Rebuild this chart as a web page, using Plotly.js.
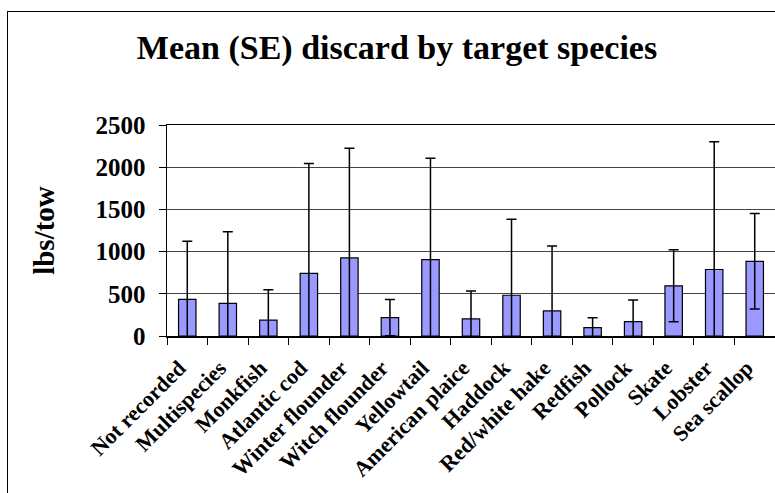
<!DOCTYPE html>
<html>
<head>
<meta charset="utf-8">
<script src="https://cdn.plot.ly/plotly-3.0.1.min.js"></script>
<style>
html, body { margin: 0; padding: 0; background: #fff; overflow: hidden; width: 775px; height: 493px; }
#wrap { position: relative; width: 775px; height: 493px; overflow: hidden; }
#chart { position: absolute; left: 0; top: 0; width: 775px; height: 493px; }
#frame { position: absolute; left: 7px; top: 11px; width: 900px; height: 600px;
         border-left: 1px solid #000; border-top: 1px solid #000; pointer-events: none; }
</style>
</head>
<body>
<div id="wrap">
<div id="chart"></div>
<div id="frame"></div>
</div>
<script>
// Data
const species = ["Not recorded", "Multispecies", "Monkfish", "Atlantic cod", "Winter flounder",
  "Witch flounder", "Yellowtail", "American plaice", "Haddock", "Red/white hake",
  "Redfish", "Pollock", "Skate", "Lobster", "Sea scallop"];
const meanDiscard = [433, 386, 187, 743, 925, 218, 906, 202, 483, 297, 100, 171, 595, 788, 885];
const seDiscard   = [690, 850, 360, 1300, 1300, 215, 1200, 330, 900, 770, 115, 256, 427, 1515, 565];
const yTicks = [0, 500, 1000, 1500, 2000, 2500];

const serif = '"Liberation Serif", "Times New Roman", serif';

const trace = {
  type: 'bar',
  x: species,
  y: meanDiscard,
  marker: { color: '#9999FF', line: { color: '#000000', width: 1.2 } },
  error_y: { type: 'data', array: seDiscard, symmetric: true, visible: true,
             color: '#000000', thickness: 1.5, width: 5 },
  cliponaxis: true,
  hoverinfo: 'x+y'
};

const layout = {
  width: 775, height: 493,
  margin: { l: 167, r: 0, t: 125, b: 157, pad: 0 },
  paper_bgcolor: '#ffffff', plot_bgcolor: '#ffffff',
  showlegend: false,
  bargap: 0.57,
  title: {
    text: 'Mean (SE) discard by target species',
    font: { family: serif, size: 34, color: '#000', weight: 'bold' },
    x: 397 / 775, xanchor: 'center', xref: 'container',
    y: 1 - 47 / 493, yanchor: 'middle', yref: 'container'
  },
  xaxis: {
    type: 'category',
    tickangle: -45,
    tickson: 'boundaries',
    ticks: 'outside', ticklen: 7, tickcolor: '#000', tickwidth: 1,
    showline: true, linecolor: '#000', linewidth: 1.5, mirror: true,
    showgrid: false, zeroline: false,
    tickfont: { family: serif, size: 22, color: '#000', weight: 'bold' },
    ticklabelstandoff: 9,
    ticklabelshift: -8,
    fixedrange: true
  },
  yaxis: {
    range: [0, 2500],
    tickvals: yTicks,
    ticktext: yTicks.map(String),
    ticks: 'outside', ticklen: 7, tickcolor: '#000', tickwidth: 1,
    showline: true, linecolor: '#000', linewidth: 1.5,
    showgrid: true, gridcolor: '#444', gridwidth: 1,
    zeroline: false,
    tickfont: { family: serif, size: 25, color: '#000', weight: 'bold' },
    ticklabelstandoff: 8,
    title: { text: 'lbs/tow', font: { family: serif, size: 29, color: '#000', weight: 'bold' }, standoff: 32 },
    fixedrange: true
  }
};

Plotly.newPlot('chart', [trace], layout, { displayModeBar: false, staticPlot: true });
</script>
</body>
</html>
